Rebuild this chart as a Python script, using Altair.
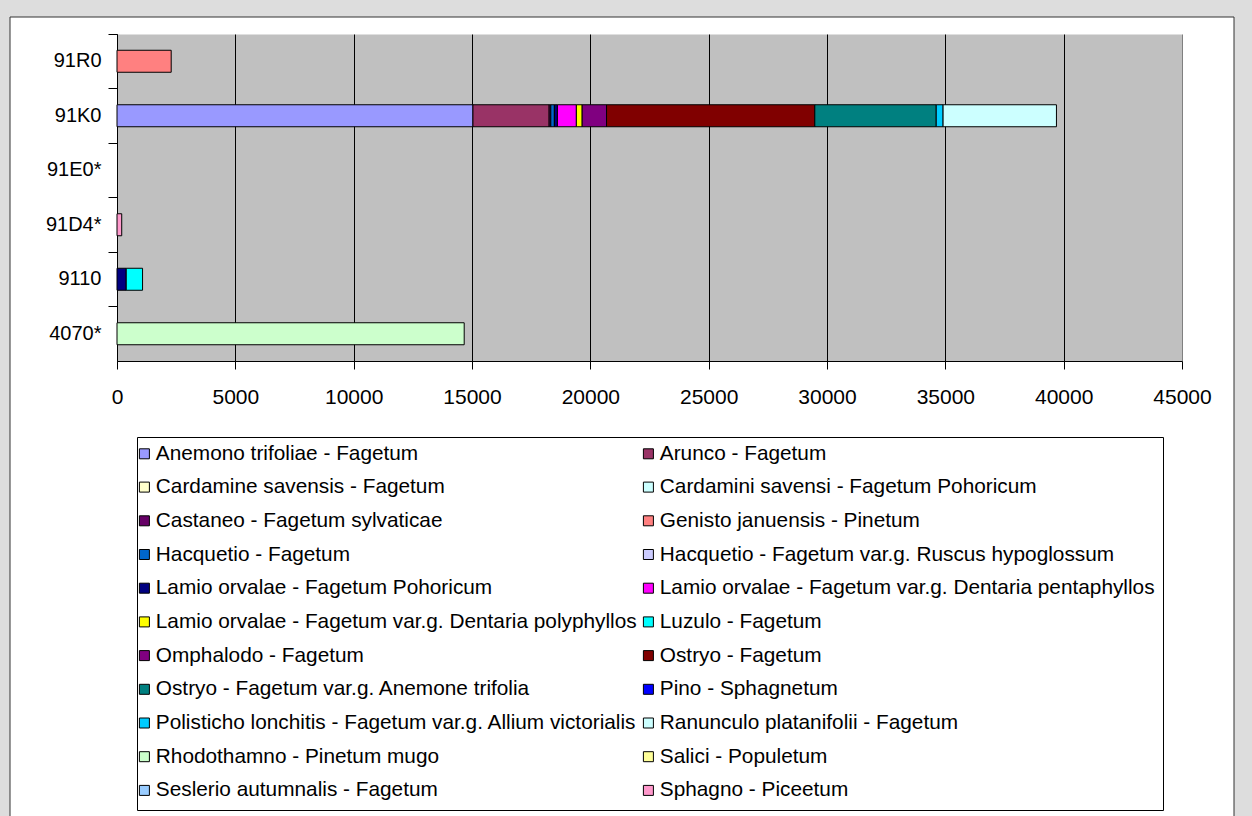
import altair as alt
import pandas as pd

# Habitat types on the vertical axis, top to bottom
habitats = ["91R0", "91K0", "91E0*", "91D4*", "9110", "4070*"]

# Forest associations (stacking order) and their fill colours
associations = [
    "Anemono trifoliae - Fagetum",
    "Arunco - Fagetum",
    "Cardamine savensis - Fagetum",
    "Cardamini savensi - Fagetum Pohoricum",
    "Castaneo - Fagetum sylvaticae",
    "Genisto januensis - Pinetum",
    "Hacquetio - Fagetum",
    "Hacquetio - Fagetum var.g. Ruscus hypoglossum",
    "Lamio orvalae - Fagetum Pohoricum",
    "Lamio orvalae - Fagetum var.g. Dentaria pentaphyllos",
    "Lamio orvalae - Fagetum var.g. Dentaria polyphyllos",
    "Luzulo - Fagetum",
    "Omphalodo - Fagetum",
    "Ostryo - Fagetum",
    "Ostryo - Fagetum var.g. Anemone trifolia",
    "Pino - Sphagnetum",
    "Polisticho lonchitis - Fagetum var.g. Allium victorialis",
    "Ranunculo platanifolii - Fagetum",
    "Rhodothamno - Pinetum mugo",
    "Salici - Populetum",
    "Seslerio autumnalis - Fagetum",
    "Sphagno - Piceetum",
]
association_colors = [
    "#9999FF", "#993366", "#FFFFCC", "#CCFFFF", "#660066", "#FF8080",
    "#0066CC", "#CCCCFF", "#000080", "#FF00FF", "#FFFF00", "#00FFFF",
    "#800080", "#800000", "#008080", "#0000FF", "#00CCFF", "#CCFFFF",
    "#CCFFCC", "#FFFF99", "#99CCFF", "#FF99CC",
]

# Area per habitat and association
seg_habitat = [
    "91R0",
    "91K0", "91K0", "91K0", "91K0", "91K0", "91K0",
    "91K0", "91K0", "91K0", "91K0", "91K0", "91K0",
    "91D4*",
    "9110", "9110",
    "4070*",
]
seg_association = [
    "Genisto januensis - Pinetum",
    "Anemono trifoliae - Fagetum",
    "Arunco - Fagetum",
    "Castaneo - Fagetum sylvaticae",
    "Hacquetio - Fagetum",
    "Lamio orvalae - Fagetum Pohoricum",
    "Lamio orvalae - Fagetum var.g. Dentaria pentaphyllos",
    "Lamio orvalae - Fagetum var.g. Dentaria polyphyllos",
    "Omphalodo - Fagetum",
    "Ostryo - Fagetum",
    "Ostryo - Fagetum var.g. Anemone trifolia",
    "Polisticho lonchitis - Fagetum var.g. Allium victorialis",
    "Ranunculo platanifolii - Fagetum",
    "Sphagno - Piceetum",
    "Lamio orvalae - Fagetum Pohoricum",
    "Luzulo - Fagetum",
    "Rhodothamno - Pinetum mugo",
]
seg_area = [
    2290,
    15040, 3220, 70, 150, 130, 800, 245, 1030, 8800, 5130, 290, 4790,
    200,
    390, 690,
    14670,
]

x_ticks = [0, 5000, 10000, 15000, 20000, 25000, 30000, 35000, 40000, 45000]

df = pd.DataFrame({
    "habitat": seg_habitat,
    "association": seg_association,
    "area": seg_area,
})
df["rank"] = df["association"].map({a: i for i, a in enumerate(associations)})

# The legend grid fills column by column; interleave so entries read row by row
legend_domain = associations[0::2] + associations[1::2]
legend_range = association_colors[0::2] + association_colors[1::2]

FONT = "Liberation Sans"
PLOT_W, PLOT_H = 1065, 327

bars = alt.Chart(df).mark_bar(size=22, stroke="black", strokeWidth=1).encode(
    x=alt.X(
        "area:Q",
        stack="zero",
        scale=alt.Scale(domain=[0, 45000], nice=False),
        axis=alt.Axis(
            values=x_ticks, format="d", title=None,
            labelFont=FONT, labelFontSize=21, labelColor="black",
            labelPadding=17, labelFlush=False, labelOverlap=False,
            tickSize=8, tickColor="black", domainColor="black",
            grid=True,
            gridColor=alt.condition("datum.value == 45000", alt.value("#808080"), alt.value("#000000")),
            gridWidth=1,
        ),
    ),
    y=alt.Y(
        "habitat:N",
        scale=alt.Scale(domain=habitats, paddingInner=0, paddingOuter=0),
        axis=alt.Axis(
            title=None, bandPosition=0,
            labelFont=FONT, labelFontSize=20, labelColor="black",
            labelPadding=7, tickSize=9, tickColor="black",
            domainColor="black", grid=False,
        ),
    ),
    color=alt.Color(
        "association:N",
        scale=alt.Scale(domain=legend_domain, range=legend_range),
        legend=alt.Legend(
            title=None, orient="none", legendX=17, legendY=409, columns=2,
            symbolType="square", symbolSize=100, symbolStrokeColor="black",
            symbolStrokeWidth=1, labelFont=FONT, labelFontSize=20.8,
            labelColor="black", labelLimit=800, labelOffset=1,
            rowPadding=11.7, columnPadding=1, padding=0,
        ),
    ),
    order=alt.Order("rank:Q", sort="ascending"),
)

# Surrounding frame: light grey margin, the white chart panel's border
# and the box around the legend
frame_src = alt.Chart(pd.DataFrame({"k": [0]}))
frame_grey = "#DDDDDD"
top_strip = frame_src.mark_rect(color=frame_grey).encode(
    x=alt.value(-117), x2=alt.value(1135), y=alt.value(-34), y2=alt.value(-17))
left_strip = frame_src.mark_rect(color=frame_grey).encode(
    x=alt.value(-117), x2=alt.value(-107), y=alt.value(-34), y2=alt.value(800))
right_strip = frame_src.mark_rect(color=frame_grey).encode(
    x=alt.value(1117), x2=alt.value(1135), y=alt.value(-34), y2=alt.value(800))
panel_border = frame_src.mark_rect(filled=False, stroke="#333333", strokeWidth=1).encode(
    x=alt.value(-107), x2=alt.value(1117), y=alt.value(-17), y2=alt.value(800))
legend_box = frame_src.mark_rect(filled=False, stroke="black", strokeWidth=1).encode(
    x=alt.value(20.5), x2=alt.value(1046.5), y=alt.value(403.5), y2=alt.value(776.5))

chart = alt.layer(top_strip, left_strip, right_strip, panel_border, legend_box, bars).properties(
    width=PLOT_W,
    height=PLOT_H,
    padding={"left": 117, "top": 34, "right": 70, "bottom": 455},
    autosize=alt.AutoSizeParams(type="none"),
    background="white",
).configure_view(
    fill="#C0C0C0", stroke="transparent"
)

chart.save("out.html", embed_options={"renderer": "svg", "actions": False})
